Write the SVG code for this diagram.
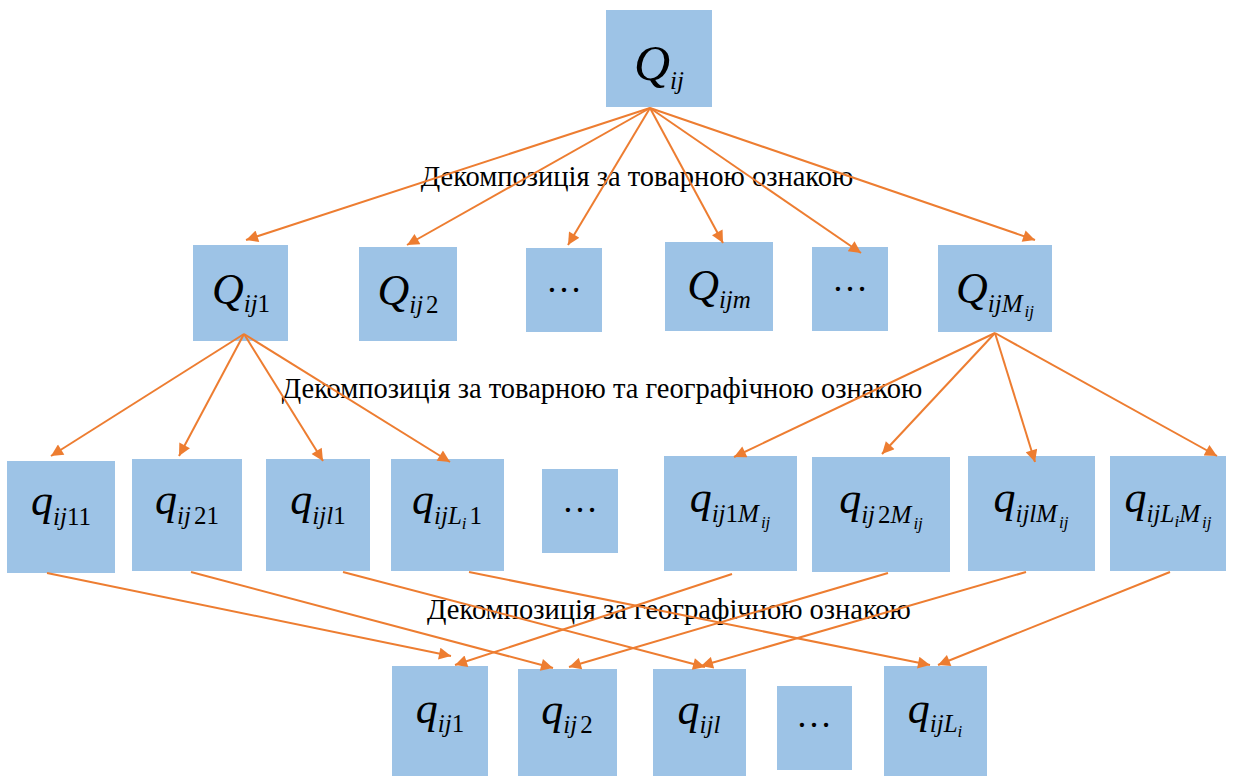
<svg xmlns="http://www.w3.org/2000/svg" width="1243" height="776" viewBox="0 0 1243 776">
  <style>
    .box { fill: #9DC3E6; }
    .lbl { font-family: "Liberation Serif", "Times New Roman", serif; fill: #000; text-anchor: middle; }
    .cap { font-size: 28.5px; }
    .big { font-size: 50px; }
    .m { font-size: 44px; }
    .it { font-style: italic; }
    .s { font-size: 25px; }
    .ss { font-size: 17px; }
    .dots { font-size: 36px; }
    .edge { stroke: #ED7D31; stroke-width: 2; fill: none; }
    .tip { marker-end: url(#arrow); }
  </style>
  <defs>
    <marker id="arrow" viewBox="0 0 10 10" refX="10" refY="5" markerWidth="15" markerHeight="12" markerUnits="userSpaceOnUse" orient="auto">
      <path d="M0,0 L10,5 L0,10 z" fill="#ED7D31"/>
    </marker>
  </defs>

  <rect width="1243" height="776" fill="#FFFFFF"/>

  <!-- level captions -->
  <g id="captions">
    <text class="lbl cap" x="637" y="186">Декомпозиція за товарною ознакою</text>
    <text class="lbl cap" x="602" y="398">Декомпозиція за товарною та географічною ознакою</text>
    <text class="lbl cap" x="669" y="619">Декомпозиція за географічною ознакою</text>
  </g>

  <!-- root -->
  <g id="n-Qij">
    <rect class="box" x="606" y="10" width="106" height="97"/>
    <text class="lbl big" x="659" y="80"><tspan class="it">Q</tspan><tspan class="it s" dy="9">ij</tspan></text>
  </g>

  <!-- level 2 -->
  <g id="n-Qij1">
    <rect class="box" x="193" y="245" width="95" height="96"/>
    <text class="lbl m" x="241" y="304"><tspan class="it">Q</tspan><tspan class="it s" dy="8">ij</tspan><tspan class="s">1</tspan></text>
  </g>
  <g id="n-Qij2">
    <rect class="box" x="359" y="247" width="98" height="94"/>
    <text class="lbl m" x="408" y="305"><tspan class="it">Q</tspan><tspan class="it s" dy="8">ij</tspan><tspan class="s" dx="3">2</tspan></text>
  </g>
  <g id="n-dots-a">
    <rect class="box" x="526" y="248" width="76" height="84"/>
    <text class="lbl dots" x="564" y="292">…</text>
  </g>
  <g id="n-Qijm">
    <rect class="box" x="665" y="242" width="108" height="89"/>
    <text class="lbl m" x="719" y="300"><tspan class="it">Q</tspan><tspan class="it s" dy="8">ijm</tspan></text>
  </g>
  <g id="n-dots-b">
    <rect class="box" x="812" y="247" width="76" height="84"/>
    <text class="lbl dots" x="850" y="291">…</text>
  </g>
  <g id="n-QijMij">
    <rect class="box" x="938" y="245" width="114" height="87"/>
    <text class="lbl m" x="995" y="303"><tspan class="it">Q</tspan><tspan class="it s" dy="9">ijM</tspan><tspan class="it ss" dx="2" dy="5">ij</tspan></text>
  </g>

  <!-- level 3 -->
  <g id="n-qij11">
    <rect class="box" x="7" y="461" width="108" height="112"/>
    <text class="lbl m" x="61" y="515"><tspan class="it">q</tspan><tspan class="it s" dy="10">ij</tspan><tspan class="s">11</tspan></text>
  </g>
  <g id="n-qij21">
    <rect class="box" x="132" y="459" width="110" height="112"/>
    <text class="lbl m" x="187" y="514"><tspan class="it">q</tspan><tspan class="it s" dy="10">ij</tspan><tspan class="s" dx="3">21</tspan></text>
  </g>
  <g id="n-qijl1">
    <rect class="box" x="266" y="459" width="104" height="112"/>
    <text class="lbl m" x="318" y="514"><tspan class="it">q</tspan><tspan class="it s" dy="10">ijl</tspan><tspan class="s">1</tspan></text>
  </g>
  <g id="n-qijLi1">
    <rect class="box" x="391" y="459" width="113" height="112"/>
    <text class="lbl m" x="447" y="514"><tspan class="it">q</tspan><tspan class="it s" dy="10">ijL</tspan><tspan class="it ss" dy="5">i</tspan><tspan class="s" dx="3" dy="-5">1</tspan></text>
  </g>
  <g id="n-dots-c">
    <rect class="box" x="542" y="469" width="76" height="84"/>
    <text class="lbl dots" x="580" y="512">…</text>
  </g>
  <g id="n-qij1Mij">
    <rect class="box" x="664" y="456" width="133" height="115"/>
    <text class="lbl m" x="730" y="512"><tspan class="it">q</tspan><tspan class="it s" dy="10">ij</tspan><tspan class="s">1</tspan><tspan class="it s">M</tspan><tspan class="it ss" dx="2" dy="6">ij</tspan></text>
  </g>
  <g id="n-qij2Mij">
    <rect class="box" x="812" y="457" width="138" height="115"/>
    <text class="lbl m" x="881" y="513"><tspan class="it">q</tspan><tspan class="it s" dy="10">ij</tspan><tspan class="s" dx="3">2</tspan><tspan class="it s">M</tspan><tspan class="it ss" dx="2" dy="6">ij</tspan></text>
  </g>
  <g id="n-qijlMij">
    <rect class="box" x="968" y="456" width="127" height="115"/>
    <text class="lbl m" x="1031" y="512"><tspan class="it">q</tspan><tspan class="it s" dy="10">ijlM</tspan><tspan class="it ss" dx="2" dy="6">ij</tspan></text>
  </g>
  <g id="n-qijLiMij">
    <rect class="box" x="1110" y="456" width="116" height="115"/>
    <text class="lbl m" x="1168" y="512"><tspan class="it">q</tspan><tspan class="it s" dy="10">ijL</tspan><tspan class="it ss" dy="5">i</tspan><tspan class="it s" dy="-5">M</tspan><tspan class="it ss" dx="2" dy="6">ij</tspan></text>
  </g>

  <!-- level 4 -->
  <g id="n-qij1">
    <rect class="box" x="392" y="666" width="96" height="110"/>
    <text class="lbl m" x="440" y="723"><tspan class="it">q</tspan><tspan class="it s" dy="9">ij</tspan><tspan class="s">1</tspan></text>
  </g>
  <g id="n-qij2">
    <rect class="box" x="518" y="669" width="99" height="107"/>
    <text class="lbl m" x="567" y="724"><tspan class="it">q</tspan><tspan class="it s" dy="9">ij</tspan><tspan class="s" dx="3">2</tspan></text>
  </g>
  <g id="n-qijl">
    <rect class="box" x="653" y="669" width="93" height="107"/>
    <text class="lbl m" x="699" y="724"><tspan class="it">q</tspan><tspan class="it s" dy="9">ijl</tspan></text>
  </g>
  <g id="n-dots-d">
    <rect class="box" x="777" y="686" width="75" height="84"/>
    <text class="lbl dots" x="814" y="727">…</text>
  </g>
  <g id="n-qijLi">
    <rect class="box" x="884" y="666" width="103" height="110"/>
    <text class="lbl m" x="935" y="723"><tspan class="it">q</tspan><tspan class="it s" dy="9">ijL</tspan><tspan class="it ss" dy="5">i</tspan></text>
  </g>

  <!-- connectors -->
  <g id="connectors" class="edge">
    <line class="tip" x1="650" y1="108" x2="246" y2="240"/>
    <line class="tip" x1="650" y1="108" x2="407" y2="245"/>
    <line class="tip" x1="650" y1="108" x2="568" y2="245"/>
    <line class="tip" x1="650" y1="108" x2="723" y2="243"/>
    <line class="tip" x1="650" y1="108" x2="861" y2="253"/>
    <line class="tip" x1="650" y1="108" x2="1035" y2="240"/>

    <line class="tip" x1="244" y1="334" x2="51" y2="456"/>
    <line class="tip" x1="244" y1="334" x2="179" y2="456"/>
    <line class="tip" x1="244" y1="334" x2="323" y2="461"/>
    <line class="tip" x1="244" y1="334" x2="450" y2="462"/>

    <line class="tip" x1="995" y1="333" x2="734" y2="457"/>
    <line class="tip" x1="995" y1="333" x2="882" y2="454"/>
    <line class="tip" x1="995" y1="333" x2="1035" y2="462"/>
    <line class="tip" x1="995" y1="333" x2="1217" y2="456"/>

    <line class="tip" x1="47" y1="573" x2="451" y2="656"/>
    <line class="tip" x1="191" y1="572" x2="553" y2="668"/>
    <line class="tip" x1="343" y1="572" x2="705" y2="667"/>
    <line class="tip" x1="469" y1="572" x2="930" y2="665"/>

    <line class="tip" x1="732" y1="574" x2="455" y2="665"/>
    <line class="tip" x1="888" y1="573" x2="569" y2="667"/>
    <line class="tip" x1="1026" y1="572" x2="701" y2="666"/>
    <line class="tip" x1="1170" y1="572" x2="938" y2="665"/>
  </g>
</svg>
